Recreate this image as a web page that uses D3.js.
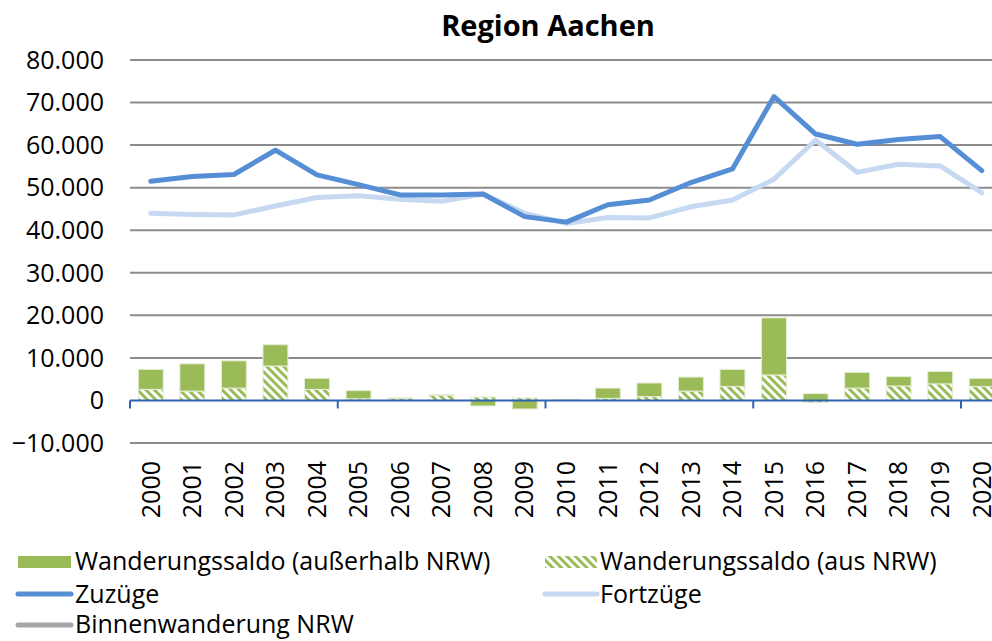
<!DOCTYPE html>
<html>
<head>
<meta charset="utf-8">
<script src="https://cdn.jsdelivr.net/npm/d3@7"></script>
<style>
body{margin:0;background:#fff;}
text{font-family:"Open Sans",sans-serif;fill:#000;}
</style>
</head>
<body>
<div id="chart"></div>
<script>
// data
var years=['2000','2001','2002','2003','2004','2005','2006','2007','2008','2009','2010',
  '2011','2012','2013','2014','2015','2016','2017','2018','2019','2020']
var saldoAusNRW=[2600,2200,2900,8100,2600,400,500,1200,800,600,100,500,900,2200,3300,6000,-500,2900,3400,3900,3300]
var saldoAusserhalb=[4700,6400,6400,5000,2600,1900,100,200,-1300,-2000,200,2400,3200,3300,4000,13400,1600,3700,2200,2900,1900]
var zuzuege=[51500,52600,53100,58800,53000,50700,48300,48300,48500,43200,41900,46000,47100,51200,54400,71400,62600,60200,61300,62000,54000]
var fortzuege=[44000,43700,43600,45700,47700,48100,47300,46800,48500,44000,41600,43000,42900,45500,47100,52000,61200,53600,55500,55100,48800]
var yTicks=[-10000,0,10000,20000,30000,40000,50000,60000,70000,80000]

var W=992,H=641
var green='#9bbb59', blue='#558ed5', light='#c6d9f1', grey='#a6a6a6'

var svg=d3.select('#chart').append('svg').attr('width',W).attr('height',H)

var defs=svg.append('defs')
var pat=defs.append('pattern').attr('id','hatch')
  .attr('patternUnits','userSpaceOnUse').attr('width',6).attr('height',6)
  .attr('patternTransform','rotate(-45)')
pat.append('rect').attr('width',6).attr('height',6).attr('fill','#fff')
pat.append('rect').attr('width',3).attr('height',6).attr('fill',green)

var x=d3.scaleBand().domain(years).range([130,130+21*41.55]).paddingInner(0.4).paddingOuter(0.2)
var y=d3.scaleLinear().domain([-10000,80000]).range([443,60])
var fmt=function(d){return d3.format(',')(d).replace(/,/g,'.')}

// title
svg.append('text').attr('x',548).attr('y',36).attr('text-anchor','middle')
  .style('font-size','29px').style('font-weight','bold').text('Region Aachen')

// grid
svg.append('g').selectAll('line').data(yTicks.filter(d=>d!=0)).join('line')
  .attr('x1',130).attr('x2',W).attr('y1',d=>y(d)).attr('y2',d=>y(d))
  .attr('stroke','#8c8c8c').attr('stroke-width',2)

// y labels
svg.append('g').selectAll('text').data(yTicks).join('text')
  .attr('x',104).attr('y',d=>y(d)).attr('dy','0.35em').attr('text-anchor','end')
  .style('font-size','25px').text(d=>d==0?'0':fmt(d))

// bars (stacked, pos/neg separately)
var bars=svg.append('g')
years.forEach(function(yr,i){
  var a=saldoAusNRW[i], b=saldoAusserhalb[i]
  var pos=0,neg=0
  ;[[a,'url(#hatch)'],[b,green]].forEach(function(s){
    var v=s[0],y0,y1
    if(v>=0){y0=pos;y1=pos+v;pos=y1}else{y0=neg;y1=neg+v;neg=y1}
    bars.append('rect').attr('x',x(yr)).attr('width',x.bandwidth())
      .attr('y',y(Math.max(y0,y1))).attr('height',Math.abs(y(y0)-y(y1)))
      .attr('fill',s[1]).attr('stroke','#e4edd3').attr('stroke-width',1)
  })
})

// x axis
svg.append('line').attr('x1',130).attr('x2',W).attr('y1',y(0)).attr('y2',y(0))
  .attr('stroke','#2f63b0').attr('stroke-width',2)
svg.append('g').selectAll('line').data([0,5,10,15,20]).join('line')
  .attr('x1',d=>x.range()[0]+d*x.step()).attr('x2',d=>x.range()[0]+d*x.step())
  .attr('y1',y(0)).attr('y2',y(0)+8).attr('stroke','#2f63b0').attr('stroke-width',2)
svg.append('g').selectAll('text').data(years).join('text')
  .attr('transform',d=>'translate('+(x(d)+x.bandwidth()/2)+',461) rotate(-90)')
  .attr('text-anchor','end').attr('dy','0.35em')
  .style('font-size','25px').text(d=>d)

// lines
var line=d3.line().x((d,i)=>x(years[i])+x.bandwidth()/2).y(d=>y(d))
svg.append('path').datum(fortzuege).attr('d',line).attr('fill','none')
  .attr('stroke',light).attr('stroke-width',5).attr('stroke-linejoin','round').attr('stroke-linecap','round')
svg.append('path').datum(zuzuege).attr('d',line).attr('fill','none')
  .attr('stroke',blue).attr('stroke-width',5).attr('stroke-linejoin','round').attr('stroke-linecap','round')

// legend
var lg=svg.append('g').style('font-size','25px')
function legText(xp,yp,t){lg.append('text').attr('x',xp).attr('y',yp).attr('dy','0.35em').text(t)}
lg.append('rect').attr('x',18).attr('y',556).attr('width',53).attr('height',12).attr('fill',green)
legText(75,561,'Wanderungssaldo (außerhalb NRW)')
lg.append('rect').attr('x',545).attr('y',556).attr('width',52).attr('height',12).attr('fill','url(#hatch)')
legText(600,561,'Wanderungssaldo (aus NRW)')
lg.append('line').attr('x1',18).attr('x2',71).attr('y1',594).attr('y2',594)
  .attr('stroke',blue).attr('stroke-width',5).attr('stroke-linecap','round')
legText(75,594,'Zuzüge')
lg.append('line').attr('x1',545).attr('x2',597).attr('y1',594).attr('y2',594)
  .attr('stroke',light).attr('stroke-width',5).attr('stroke-linecap','round')
legText(600,594,'Fortzüge')
lg.append('line').attr('x1',18).attr('x2',71).attr('y1',625).attr('y2',625)
  .attr('stroke',grey).attr('stroke-width',5).attr('stroke-linecap','round')
legText(75,624,'Binnenwanderung NRW')
</script>
</body>
</html>
